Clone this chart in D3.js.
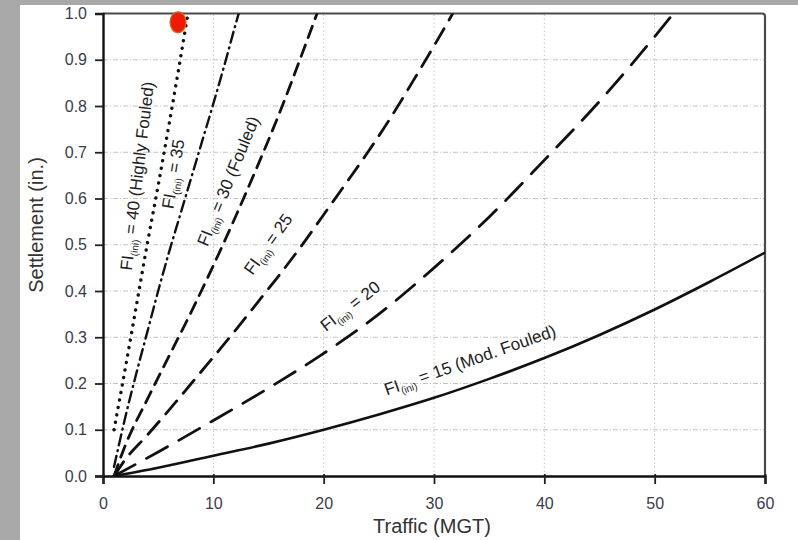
<!DOCTYPE html>
<html>
<head>
<meta charset="utf-8">
<script src="https://cdn.jsdelivr.net/npm/d3@7"></script>
<style>
  html, body { margin: 0; padding: 0; background: #fff; }
  svg { display: block; }
  text { font-family: "Liberation Sans", Arial, sans-serif; }
</style>
</head>
<body>
<svg id="chart" width="798" height="540"></svg>
<script>
// ---- data ----
const xTicks = [0, 10, 20, 30, 40, 50, 60];
const yTicks = [0.0, 0.1, 0.2, 0.3, 0.4, 0.5, 0.6, 0.7, 0.8, 0.9, 1.0];

// [Traffic (MGT), Settlement (in.)]
const fi15 = [[1,0.0],[5,0.018],[10,0.044],[15,0.07],[20,0.1],[25,0.133],[30,0.169],[35,0.21],[40,0.255],[45,0.305],[50,0.36],[55,0.42],[60,0.483]];
const fi20 = [[1,0.0],[5,0.052],[10,0.12],[15,0.19],[20,0.265],[25,0.35],[30,0.45],[35,0.56],[40,0.683],[45,0.81],[50,0.95],[51.7,1.0]];
const fi25 = [[1,0.0],[2,0.035],[4,0.088],[6,0.143],[8,0.2],[10,0.257],[12,0.315],[14,0.375],[16,0.435],[18,0.498],[20,0.565],[22,0.632],[24,0.7],[26,0.772],[28,0.85],[30,0.93],[31.7,1.0]];
const fi30 = [[1,0.0],[2,0.065],[4,0.165],[6,0.26],[8,0.355],[10,0.455],[12,0.56],[14,0.67],[16,0.785],[18,0.91],[19.4,1.0]];
const fi35 = [[1,0.02],[2,0.125],[3,0.22],[4,0.31],[5,0.4],[6,0.485],[7,0.565],[8,0.645],[9,0.725],[10,0.805],[11,0.888],[12,0.975],[12.3,1.0]];
const fi40 = [[1,0.1],[2,0.23],[3,0.365],[4,0.5],[5,0.628],[6,0.762],[7,0.9],[7.7,1.0]];
const marker = [[6.8, 0.981]];

const seriesNames = ["15 (Mod. Fouled)", "20", "25", "30 (Fouled)", "35", "40 (Highly Fouled)"];

// ---- layout ----
const svg = d3.select("#chart");
const W = 798, H = 540;
const x = d3.scaleLinear().domain([0, 60]).range([103, 765]);
const y = d3.scaleLinear().domain([0, 1]).range([476, 13.5]);

// gray border bands
svg.append("rect").attr("x", 0).attr("y", 0).attr("width", W).attr("height", 5).attr("fill", "#a8a8a8");
svg.append("rect").attr("x", 0).attr("y", 0).attr("width", 20).attr("height", H).attr("fill", "#a8a8a8");

// grid
const grid = svg.append("g");
grid.selectAll("line.h").data(yTicks.slice(1, -1)).join("line")
  .attr("x1", x(0)).attr("x2", x(60)).attr("y1", d => y(d)).attr("y2", d => y(d))
  .attr("stroke", "#c4c4c4").attr("stroke-width", 1).attr("stroke-dasharray", "5,2,1,2");
grid.selectAll("line.v").data(xTicks.slice(1, -1)).join("line")
  .attr("y1", y(0)).attr("y2", y(1)).attr("x1", d => x(d)).attr("x2", d => x(d))
  .attr("stroke", "#c4c4c4").attr("stroke-width", 1).attr("stroke-dasharray", "1.5,2.5");

// frame (top & right)
svg.append("path")
  .attr("d", `M${x(0)},${y(1)} L${x(60) - 3},${y(1)} Q${x(60)},${y(1)} ${x(60)},${y(1) + 3} L${x(60)},${y(0)}`)
  .attr("fill", "none").attr("stroke", "#4a4a4a").attr("stroke-width", 2.2);

// curves
svg.append("clipPath").attr("id", "plotclip").append("rect")
  .attr("x", x(0)).attr("y", y(1)).attr("width", x(60) - x(0)).attr("height", y(0) - y(1));

const line = d3.line().x(d => x(d[0])).y(d => y(d[1])).curve(d3.curveMonotoneX);
const styles = [
  { data: fi15, dash: null, w: 2.6 },
  { data: fi20, dash: "24,13", w: 2.8 },
  { data: fi25, dash: "17,10", w: 2.8 },
  { data: fi30, dash: "12,8", w: 2.8 },
  { data: fi35, dash: "11,5,1,5", w: 2.4 },
  { data: fi40, dash: "0.1,7.5", w: 3.4 }
];
const gl = svg.append("g").attr("clip-path", "url(#plotclip)");
gl.selectAll("path").data(styles).join("path")
  .attr("d", d => line(d.data))
  .attr("fill", "none")
  .attr("stroke", "#111")
  .attr("stroke-width", d => d.w)
  .attr("stroke-linecap", "round")
  .attr("stroke-dasharray", d => d.dash);

// axes
const yAxis = svg.append("g").attr("transform", `translate(${x(0)},0)`)
  .call(d3.axisLeft(y).tickValues(yTicks).tickFormat(d3.format(".1f")).tickSize(8).tickPadding(8));
const xAxis = svg.append("g").attr("transform", `translate(0,${y(0)})`)
  .call(d3.axisBottom(x).tickValues(xTicks).tickFormat(d3.format("d")).tickSize(8).tickPadding(14));
[yAxis, xAxis].forEach(a => {
  a.select(".domain").attr("stroke", "#111").attr("stroke-width", 2.4);
  a.selectAll(".tick line").attr("stroke", "#222").attr("stroke-width", 1.8);
  a.selectAll(".tick text").attr("fill", "#3a3c4c").attr("font-size", 16)
    .attr("font-family", "Liberation Sans, Arial, sans-serif");
});
xAxis.selectAll(".tick line").attr("y1", -2);

// axis titles
svg.append("text").attr("x", 432).attr("y", 533).attr("text-anchor", "middle")
  .attr("font-size", 20).attr("fill", "#333").text("Traffic (MGT)");
svg.append("text").attr("transform", "translate(43,225) rotate(-90)").attr("text-anchor", "middle")
  .attr("font-size", 20).attr("fill", "#333").text("Settlement (in.)");

// curve labels
const labelPos = [
  { cx: 470, cy: 360, a: -19.4 },
  { cx: 350, cy: 306, a: -37.6 },
  { cx: 268, cy: 244, a: -54.4 },
  { cx: 228, cy: 181, a: -67.8 },
  { cx: 173, cy: 174, a: -80.8 },
  { cx: 137, cy: 176, a: -83.2 }
];
const lg = svg.append("g");
seriesNames.forEach((name, i) => {
  const p = labelPos[i];
  const t = lg.append("text")
    .attr("transform", `translate(${p.cx},${p.cy}) rotate(${p.a})`)
    .attr("text-anchor", "middle").attr("dy", "0.35em")
    .attr("font-size", 17).attr("fill", "#222");
  t.append("tspan").text("FI");
  t.append("tspan").attr("font-size", 10).attr("dy", 4).text("(ini)");
  t.append("tspan").attr("dy", -4).text(" = " + name);
});

// red marker
svg.append("g").selectAll("ellipse").data(marker).join("ellipse")
  .attr("cx", d => x(d[0])).attr("cy", d => y(d[1]))
  .attr("rx", 8).attr("ry", 10.5)
  .attr("fill", "#f01a00").attr("stroke", "#d2691e").attr("stroke-width", 1.2);
</script>
</body>
</html>
